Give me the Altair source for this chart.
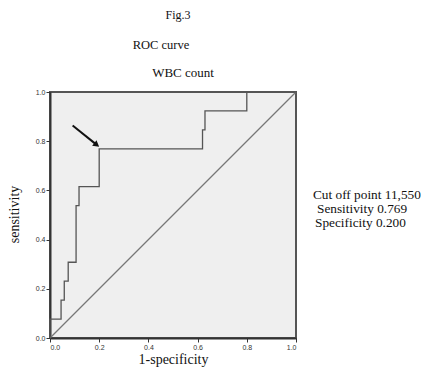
import altair as alt
import pandas as pd

# ROC curve vertices (1-specificity, sensitivity)
fpr = [0.0, 0.0, 0.045, 0.045, 0.058, 0.058, 0.074, 0.074, 0.106, 0.106, 0.118, 0.118,
       0.2, 0.2, 0.62, 0.62, 0.63, 0.63, 0.8, 0.8, 1.0]
tpr = [0.0, 0.077, 0.077, 0.154, 0.154, 0.231, 0.231, 0.308, 0.308, 0.538, 0.538, 0.615,
       0.615, 0.769, 0.769, 0.846, 0.846, 0.923, 0.923, 1.0, 1.0]
ref_x = [0.0, 1.0]
ref_y = [0.0, 1.0]
ticks = [0.0, 0.2, 0.4, 0.6, 0.8, 1.0]
arrow_x = [0.092, 0.19]
arrow_y = [0.864, 0.785]
titles = ["Fig.3", "ROC curve", "WBC count"]
notes = ["Cut off point 11,550", "Sensitivity 0.769", "Specificity 0.200"]

roc = pd.DataFrame({"fpr": fpr, "tpr": tpr, "o": list(range(len(fpr)))})
diag = pd.DataFrame({"fpr": ref_x, "tpr": ref_y})
arr = pd.DataFrame({"fpr": arrow_x, "tpr": arrow_y, "o": [0, 1]})
head = arr.iloc[[1]]

W = 246
H = 246
xs = alt.Scale(domain=[0, 1], nice=False)
ys = alt.Scale(domain=[0, 1], nice=False)
serif = "Liberation Serif"

xaxis = alt.Axis(values=ticks, format=".1f", title="1-specificity", grid=False,
                 labelFontSize=7, labelFont="Liberation Sans", labelColor="#333",
                 tickSize=4, tickColor="#333", domainColor="#333", domainWidth=2,
                 labelPadding=1, titleFont=serif, titleFontSize=14, titleFontWeight="normal",
                 titleColor="#111", titleY=25, titleBaseline="alphabetic")
yaxis = alt.Axis(values=ticks, format=".1f", title="sensitivity", grid=False,
                 labelFontSize=7, labelFont="Liberation Sans", labelColor="#333",
                 tickSize=4, tickColor="#333", domainColor="#333", domainWidth=2,
                 labelPadding=1, titleFont=serif, titleFontSize=14, titleFontWeight="normal",
                 titleColor="#111", titleX=-36, titleY=122, titleAngle=-90,
                 titleAlign="center", titleBaseline="middle")

diag_line = alt.Chart(diag).mark_line(color="#777", strokeWidth=1.2).encode(
    x=alt.X("fpr:Q", scale=xs, axis=xaxis),
    y=alt.Y("tpr:Q", scale=ys, axis=yaxis),
)
roc_line = alt.Chart(roc).mark_line(color="#555", strokeWidth=1.3).encode(
    x=alt.X("fpr:Q", scale=xs),
    y=alt.Y("tpr:Q", scale=ys),
    order="o:Q",
)
arrow_line = alt.Chart(arr).mark_line(color="#111", strokeWidth=2).encode(
    x=alt.X("fpr:Q", scale=xs),
    y=alt.Y("tpr:Q", scale=ys),
    order="o:Q",
)
arrow_head = alt.Chart(head).mark_point(shape="triangle-up", filled=True, color="#111",
                                        size=50, angle=128, opacity=1).encode(
    x=alt.X("fpr:Q", scale=xs),
    y=alt.Y("tpr:Q", scale=ys),
)

def txt(s, x, y, size=13, align="center"):
    return alt.Chart(pd.DataFrame({"t": [s]})).mark_text(
        font=serif, fontSize=size, color="#111", align=align, baseline="middle"
    ).encode(text="t:N", x=alt.value(x), y=alt.value(y))

layers = [diag_line, roc_line, arrow_line, arrow_head,
          txt(titles[0], 128, -77, 12), txt(titles[1], 111, -47, 12.5),
          txt(titles[2], 133, -19, 13),
          txt(notes[0], 263, 103, 13.3, "left"), txt(notes[1], 267, 117, 13.3, "left"),
          txt(notes[2], 265, 131, 13.3, "left")]

chart = alt.layer(*layers).properties(
    width=W, height=H,
    autosize=alt.AutoSizeParams(type="none"),
    padding={"left": 42, "top": 84, "right": 126, "bottom": 29},
).configure_view(
    stroke="#555", strokeWidth=2, fill="#efefef"
)

chart.save("out.html", embed_options={"renderer": "svg", "actions": False})
